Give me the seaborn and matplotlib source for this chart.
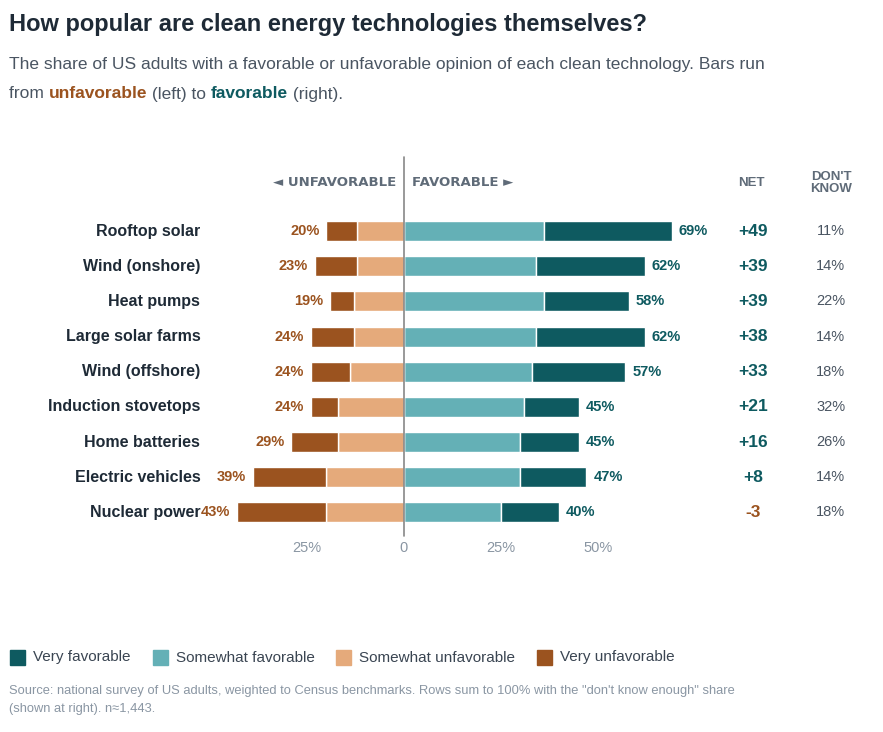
import matplotlib.pyplot as plt
import seaborn as sns
import numpy as np

categories = ["Rooftop solar", "Wind (onshore)", "Heat pumps", "Large solar farms",
              "Wind (offshore)", "Induction stovetops", "Home batteries",
              "Electric vehicles", "Nuclear power"]
very_fav = [33, 28, 22, 28, 24, 14, 15, 17, 15]
somewhat_fav = [36, 34, 36, 34, 33, 31, 30, 30, 25]
somewhat_unfav = [12, 12, 13, 13, 14, 17, 17, 20, 20]
very_unfav = [8, 11, 6, 11, 10, 7, 12, 19, 23]
dont_know = [11, 14, 22, 14, 18, 32, 26, 14, 18]

C_VF, C_SF, C_SU, C_VU = "#0e5a60", "#64b0b6", "#e5aa7b", "#9b531f"
TXT = "#1e2a36"
GREY = "#5f6b78"

sns.set_theme(style="white")
plt.rcParams['font.family'] = ['Liberation Sans', 'DejaVu Sans']

W, H = 883, 732
fig = plt.figure(figsize=(W / 100, H / 100), dpi=100)

# axes in pixel coords: data -45..70 on x, rows on y
x0, x1 = 404 - 45 * 3.88, 404 + 70 * 3.88
ytop, ybot = 213.5, 530
ax = fig.add_axes([x0 / W, 1 - ybot / H, (x1 - x0) / W, (ybot - ytop) / H])
ax.set_xlim(-45, 70)
ax.set_ylim(len(categories) - 0.5 + 0.0, -0.5)
y = np.arange(len(categories))
sf = np.array(somewhat_fav); vf = np.array(very_fav)
su = np.array(somewhat_unfav); vu = np.array(very_unfav)
h = 0.57
ax.barh(y, sf, height=h, color=C_SF)
ax.barh(y, vf, left=sf, height=h, color=C_VF)
ax.barh(y, -su, height=h, color=C_SU)
ax.barh(y, -vu, left=-su, height=h, color=C_VU)
ax.axvline(0, color="#888888", lw=1.2, ymin=-0.02, ymax=1.18, clip_on=False)
for s in ax.spines.values():
    s.set_visible(False)
ax.set_yticks([])
ax.set_xticks([-25, 0, 25, 50])
ax.set_xticklabels(["25%", "0", "25%", "50%"], color="#8a96a3", fontsize=10.5)
ax.tick_params(axis="x", length=0, pad=8)

for i in range(len(categories)):
    fav = sf[i] + vf[i]
    unf = su[i] + vu[i]
    ax.text(fav + 1.8, i, f"{fav}%", va="center", ha="left", color=C_VF,
            fontsize=10.5, fontweight="bold")
    ax.text(-unf - 1.8, i, f"{unf}%", va="center", ha="right", color=C_VU,
            fontsize=10.5, fontweight="bold")
    ax.text(-52.5, i, categories[i], va="center", ha="right", color=TXT,
            fontsize=11.5, fontweight="bold", clip_on=False)
    net = fav - unf
    ax.text(90, i, f"+{net}" if net > 0 else f"{net}", va="center", ha="center",
            color=C_VF if net > 0 else C_VU, fontsize=12.5, fontweight="bold")
    ax.text(110, i, f"{dont_know[i]}%", va="center", ha="center", color="#4a5562",
            fontsize=10.5)

fig.text(396 / W, 1 - 183 / H, "◄ UNFAVORABLE", ha="right", va="center",
         color=GREY, fontsize=9.5, fontweight="bold", family=["DejaVu Sans"])
fig.text(412 / W, 1 - 183 / H, "FAVORABLE ►", ha="left", va="center",
         color=GREY, fontsize=9.5, fontweight="bold", family=["DejaVu Sans"])
fig.text(751 / W, 1 - 183 / H, "NET", ha="center", va="center",
         color=GREY, fontsize=9.5, fontweight="bold")
fig.text(831 / W, 1 - 183 / H, "DON'T\nKNOW", ha="center", va="center",
         color=GREY, fontsize=9.5, fontweight="bold", linespacing=1.0)

fig.text(9 / W, 1 - 24 / H, "How popular are clean energy technologies themselves?",
         fontsize=17, fontweight="bold", color=TXT, va="center")
fig.text(9 / W, 1 - 64 / H,
         "The share of US adults with a favorable or unfavorable opinion of each clean technology. Bars run",
         fontsize=12.5, color="#4a5562", va="center")
t1 = fig.text(9 / W, 1 - 94 / H, "from ", fontsize=12.5, color="#4a5562", va="center")
fig.canvas.draw()
r = fig.canvas.get_renderer()
def after(prev, s, **kw):
    bb = prev.get_window_extent(r)
    t = fig.text(bb.x1 / W, 1 - 94 / H, s, fontsize=12.5, va="center", **kw)
    return t
t2 = after(t1, "unfavorable", color=C_VU, fontweight="bold")
t3 = after(t2, " (left) to ", color="#4a5562")
t4 = after(t3, "favorable", color=C_VF, fontweight="bold")
after(t4, " (right).", color="#4a5562")

# legend
lx = 10
for lab, col in [("Very favorable", C_VF), ("Somewhat favorable", C_SF),
                 ("Somewhat unfavorable", C_SU), ("Very unfavorable", C_VU)]:
    fig.patches.append(plt.Rectangle((lx / W, 1 - 665 / H), 15 / W, 15 / H,
                                     transform=fig.transFigure, color=col))
    t = fig.text((lx + 23) / W, 1 - 657.5 / H, lab, fontsize=11, color="#3a4552", va="center")
    lx = t.get_window_extent(r).x1 + 22

fig.text(9 / W, 1 - 700 / H,
         "Source: national survey of US adults, weighted to Census benchmarks. Rows sum to 100% with the \"don't know enough\" share\n(shown at right). n\u22481,443.",
         fontsize=9.3, color="#8a96a3", va="center", linespacing=1.6)

fig.savefig("out.png", dpi=100)
